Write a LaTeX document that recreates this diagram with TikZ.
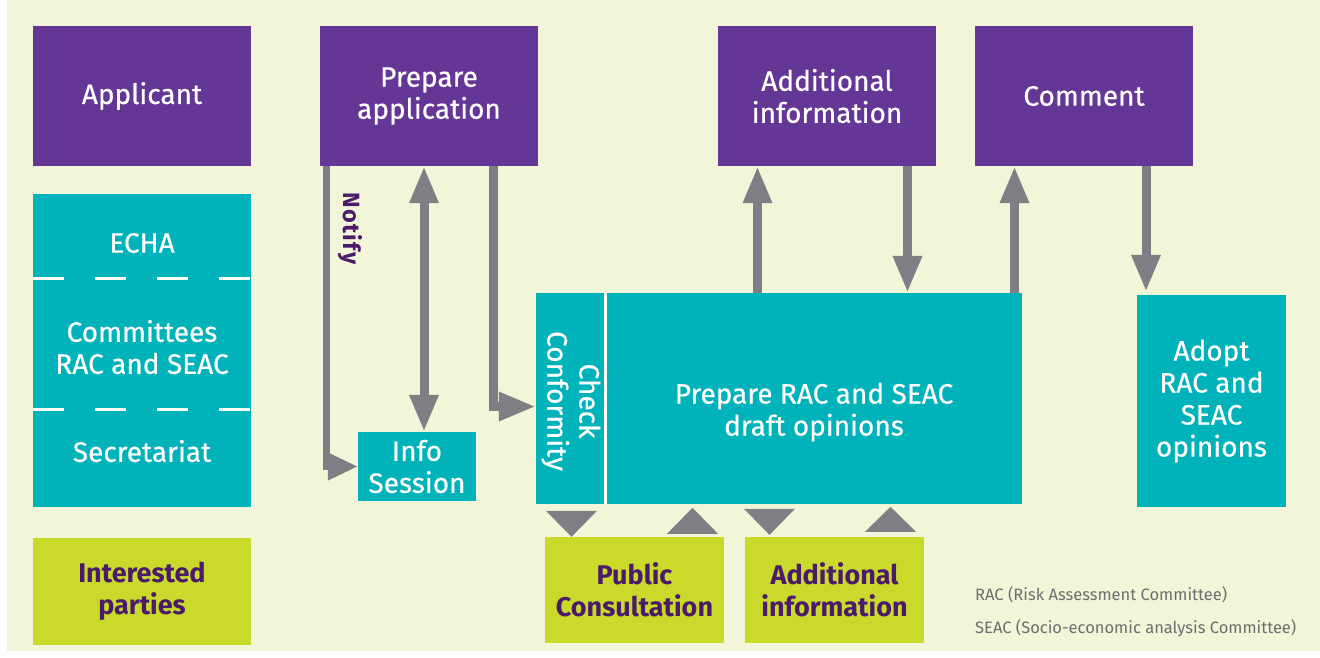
\documentclass[tikz,border=0pt]{standalone}
\usepackage{fontspec}
\setmainfont{Fira Sans}
\newfontfamily\medf[FakeBold=0.5]{Fira Sans}
\newfontfamily\notf[LetterSpace=6]{Fira Sans}
\usetikzlibrary{arrows.meta}
\definecolor{bgc}{HTML}{F2F5D8}
\definecolor{purp}{HTML}{643695}
\definecolor{tealc}{HTML}{00B2B9}
\definecolor{limec}{HTML}{C9DA2B}
\definecolor{dpurp}{HTML}{4B1A6A}
\definecolor{arrg}{HTML}{7D7F84}
\definecolor{notegray}{HTML}{6D6E71}
\begin{document}
\begin{tikzpicture}[x=1pt,y=-1pt,
  box/.style={rectangle, inner sep=0pt, align=center, font=\medf\fontsize{28}{32}\selectfont},
  pbox/.style={box, fill=purp, text=white, minimum width=218pt, minimum height=140pt},
  tbox/.style={box, fill=tealc, text=white},
  lbox/.style={box, fill=limec, text=dpurp, font=\fontsize{27}{32}\selectfont\bfseries},
  arr/.style={draw=arrg, line width=9pt, line join=miter, -{Triangle[length=37pt,width=27pt]}},
  dbl/.style={draw=arrg, line width=9pt, {Triangle[length=37pt,width=27pt]}-{Triangle[length=37pt,width=27pt]}},
  thin arr/.style={draw=arrg, line width=7pt, line join=miter, -{Triangle[length=30pt,width=26pt]}},
  tri/.style={fill=arrg},
  lbl/.style={inner sep=0pt, text=white, align=center, font=\medf\fontsize{28}{32}\selectfont},
  note/.style={inner sep=0pt, anchor=west, text=notegray, font=\fontsize{16.5}{18}\selectfont}
]
\useasboundingbox (0,0) rectangle (1320,657);
\fill[bgc] (7,0) rectangle (1320,651);

% purple row
\node[pbox] (applicant) at (142,96) {Applicant};
\node[pbox] (prep) at (429,96) {Prepare\\application};
\node[pbox] (addtop) at (827,96) {Additional\\information};
\node[pbox] (comment) at (1084,96) {Comment};

% ECHA column
\node[tbox, minimum width=218pt, minimum height=313pt] (echa) at (142,350.5) {};
\node[lbl] (echat) at (142,243) {ECHA};
\node[lbl] (comm) at (142,347) {Committees\\RAC and SEAC};
\node[lbl] (secr) at (142,451) {Secretariat};
\draw[white, line width=3pt, dash pattern=on 31pt off 31pt] (echa.west |- 0,278) -- (echa.east |- 0,278);
\draw[white, line width=3pt, dash pattern=on 31pt off 31pt] (echa.west |- 0,409) -- (echa.east |- 0,409);

\node[lbox, minimum width=218pt, minimum height=107pt] (interested) at (142,591.5) {Interested\\parties};

% info session
\node[tbox, minimum width=118pt, minimum height=69pt] (info) at (417,466.5) {Info\\Session};

% big box
\node[tbox, minimum width=486pt, minimum height=211pt] (big) at (779,398.5) {};
\draw[white, line width=3pt] ([xshift=70pt]big.north west) -- ([xshift=70pt]big.south west);
\node[lbl, rotate=-90] (check) at (571,401) {Check\\Conformity};
\node[lbl] (draft) at (814,412) {Prepare RAC and SEAC\\draft opinions};

% adopt
\node[tbox, minimum width=149pt, minimum height=212pt] (adopt) at (1211.5,401) {Adopt\\RAC and\\SEAC\\opinions};

% bottom lime
\node[lbox, minimum width=179pt, minimum height=106pt] (pub) at (634.5,590) {Public\\Consultation};
\node[lbox, minimum width=179pt, minimum height=106pt] (addbot) at (834.5,590) {Additional\\information};

% notes
\node[note] (n1) at (975,595) {RAC (Risk Assessment Committee)};
\node[note] (n2) at (975,628) {SEAC (Socio-economic analysis Committee)};

% connectors
\draw[thin arr] ([xshift=6.5pt]prep.south west) |- (info.west);
\node[rotate=-90, anchor=west, inner sep=0pt, text=dpurp, font=\notf\bfseries\fontsize{23.5}{28}\selectfont] (notify) at (350,192) {Notify};
\draw[dbl] ([xshift=7pt]info.north |- prep.south) -- ([xshift=7pt]info.north);
\draw[arr] ([xshift=-44.5pt]prep.south east) |- ([yshift=-8pt]big.west);
\draw[arr] ([xshift=-69.5pt]addtop.south |- big.north) -- ([xshift=-69.5pt]addtop.south);
\draw[arr] ([xshift=80.5pt]addtop.south) -- ([xshift=80.5pt]addtop.south |- big.north);
\draw[arr] ([xshift=-69.5pt]comment.south |- big.north) -- ([xshift=-69.5pt]comment.south);
\draw[arr] ([xshift=62pt]comment.south) -- ([xshift=62pt,yshift=3pt]comment.south |- adopt.north);

% small arrowheads between big box and lower boxes
\fill[tri] ([xshift=-63pt]pub.north) -- ++(-25.5,-26) -- ++(51,0) -- cycle;
\fill[tri] ([xshift=58pt,yshift=29pt]pub.north) -- ++(-25.5,26) -- ++(51,0) -- cycle;
\fill[tri] ([xshift=-65pt,yshift=2pt]addbot.north) -- ++(-25.5,-26) -- ++(51,0) -- cycle;
\fill[tri] ([xshift=56pt,yshift=30pt]addbot.north) -- ++(-25.5,25) -- ++(51,0) -- cycle;
\end{tikzpicture}
\end{document}
